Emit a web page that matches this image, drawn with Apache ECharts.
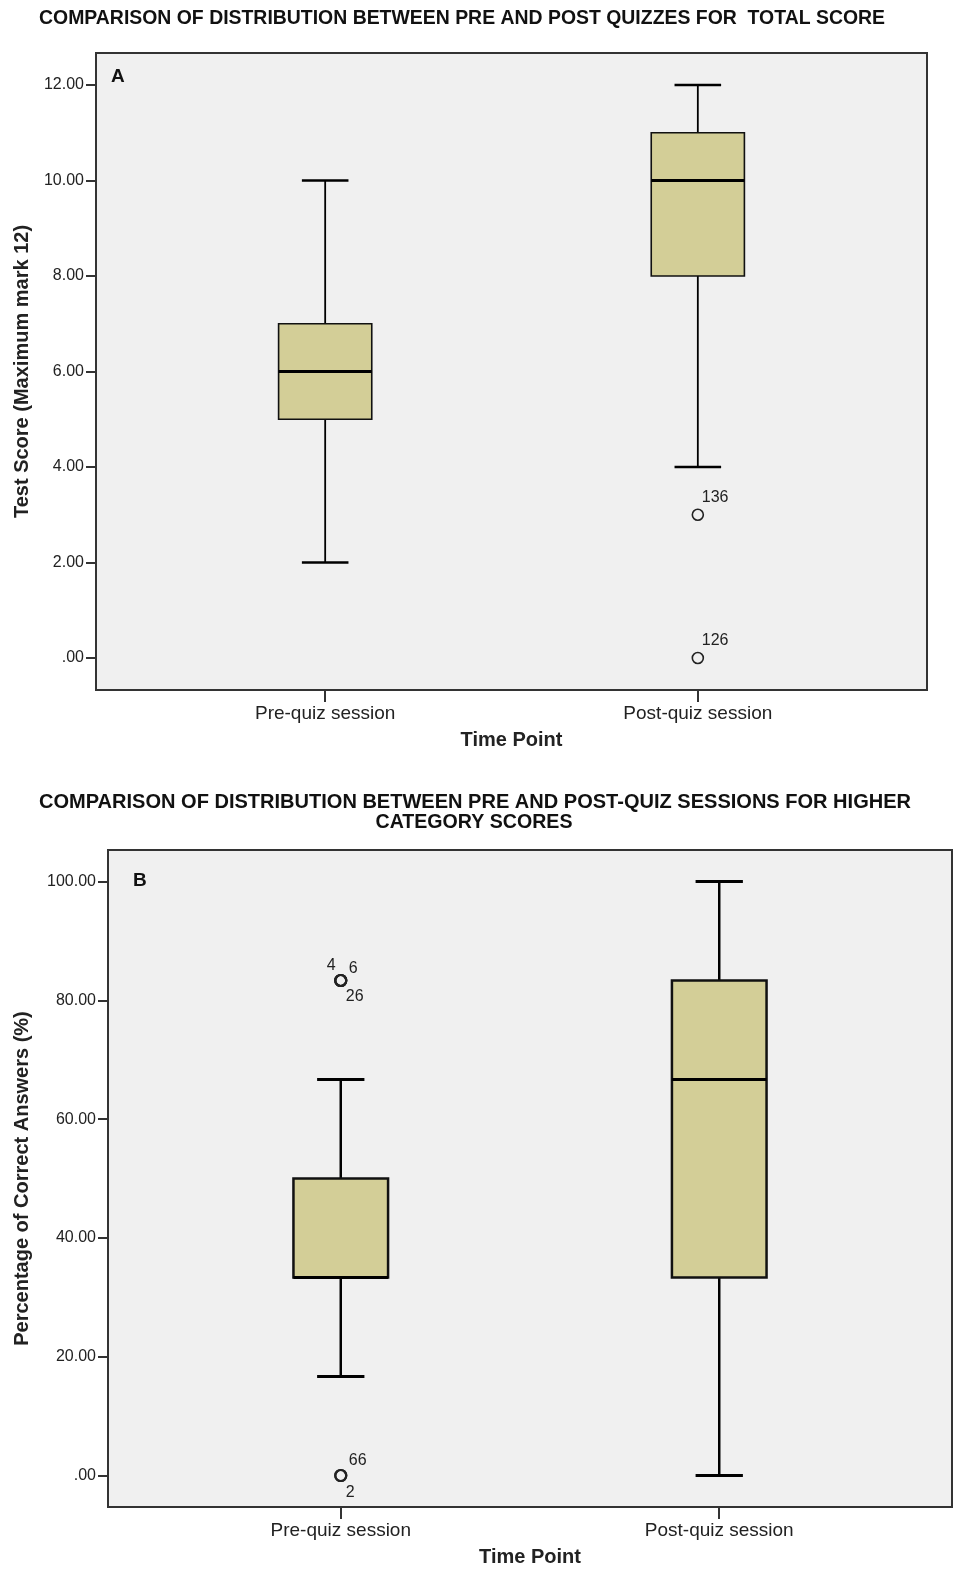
<!DOCTYPE html>
<html><head><meta charset="utf-8">
<script src="https://cdn.jsdelivr.net/npm/echarts@6/dist/echarts.min.js"></script>
<style>html,body{margin:0;padding:0;background:#fff}#chart{width:953px;height:1576px}</style>
</head><body><div id="chart"></div>
<script>
// ---------- data ----------
const categories = ['Pre-quiz session', 'Post-quiz session'];
// [min, Q1, median, Q3, max]
const boxA = [[2, 5, 6, 7, 10], [4, 8, 10, 11, 12]];
const boxB = [[16.67, 33.33, 33.33, 50, 66.67], [0, 33.33, 66.67, 83.33, 100]];
// [category index, value, case label]
const outliersA = [[1, 3, '136'], [1, 0, '126']];
const outliersB = [[0, 83.33, '4'], [0, 83.33, '6'], [0, 83.33, '26'], [0, 0, '66'], [0, 0, '2']];
const ticksA = [0, 2, 4, 6, 8, 10, 12];
const ticksB = [0, 20, 40, 60, 80, 100];
const titleA = 'COMPARISON OF DISTRIBUTION BETWEEN PRE AND POST QUIZZES FOR  TOTAL SCORE';
const titleB1 = 'COMPARISON OF DISTRIBUTION BETWEEN PRE AND POST-QUIZ SESSIONS FOR HIGHER';
const titleB2 = 'CATEGORY SCORES';
const yNameA = 'Test Score (Maximum mark 12)';
const yNameB = 'Percentage of Correct Answers (%)';
const xName = 'Time Point';

// ---------- styles ----------
const labelPos = {
  '136': {align: 'left', offset: [4, -17]},
  '126': {align: 'left', offset: [4, -17]},
  '4': {align: 'right', offset: [-5, -15]},
  '6': {align: 'left', offset: [8, -12]},
  '26': {align: 'left', offset: [5, 16]},
  '66': {align: 'left', offset: [8, -15]},
  '2': {align: 'left', offset: [5, 17]}
};
const FONT = '"Liberation Sans", Arial, sans-serif';
const canvas = document.createElement('canvas');
const ctx = canvas.getContext('2d');
function condensed(text, size, target) {
  ctx.font = 'bold ' + size + 'px ' + FONT;
  return target / ctx.measureText(text).width;
}

function makeBoxRender(lw) {
  return function (params, api) {
    const x = api.value(0);
    const pMin = api.coord([x, api.value(1)]);
    const pQ1 = api.coord([x, api.value(2)]);
    const pMed = api.coord([x, api.value(3)]);
    const pQ3 = api.coord([x, api.value(4)]);
    const pMax = api.coord([x, api.value(5)]);
    const bw = api.size([0.25, 0])[0];
    const cx = pMin[0];
    const hb = bw / 2, hc = bw / 4;
    const line = (x1, y1, x2, y2, w) => ({type: 'line', shape: {x1, y1, x2, y2}, style: {stroke: '#000', lineWidth: w}});
    return {type: 'group', children: [
      line(cx, pMax[1], cx, pQ3[1], lw.whisker),
      line(cx, pQ1[1], cx, pMin[1], lw.whisker),
      line(cx - hc, pMax[1], cx + hc, pMax[1], lw.cap),
      line(cx - hc, pMin[1], cx + hc, pMin[1], lw.cap),
      {type: 'rect', shape: {x: cx - hb, y: pQ3[1], width: bw, height: pQ1[1] - pQ3[1]},
        style: {fill: '#d3ce97', stroke: '#111', lineWidth: lw.box}},
      line(cx - hb, pMed[1], cx + hb, pMed[1], lw.median)
    ]};
  };
}

function xAxisCfg(gridIndex) {
  return {
    type: 'value', gridIndex, min: -0.615, max: 1.615,
    axisLine: {show: true, onZero: false, lineStyle: {color: '#333', width: 2}},
    axisTick: {show: true, customValues: [0, 1], length: 12, lineStyle: {color: '#333', width: 2}},
    axisLabel: {customValues: [0, 1], formatter: v => categories[Math.round(v)] || '',
      fontSize: 19, color: '#222', margin: 14, fontFamily: FONT},
    splitLine: {show: false},
    name: xName, nameLocation: 'middle', nameGap: 40,
    nameTextStyle: {fontSize: 20, fontWeight: 'bold', color: '#222', fontFamily: FONT}
  };
}
function yAxisCfg(gridIndex, min, max, ticks, name, gap) {
  return {
    type: 'value', gridIndex, min, max,
    axisLine: {show: true, onZero: false, lineStyle: {color: '#333', width: 2}},
    axisTick: {show: true, customValues: ticks, length: 10, lineStyle: {color: '#333', width: 2}},
    axisLabel: {customValues: ticks, formatter: v => v === 0 ? '.00' : v.toFixed(2),
      fontSize: 16, color: '#222', margin: 12, fontFamily: FONT},
    splitLine: {show: false},
    name, nameLocation: 'middle', nameGap: gap,
    nameTextStyle: {fontSize: 20, fontWeight: 'bold', color: '#222', fontFamily: FONT}
  };
}
function outlierSeries(list, idx, bw) {
  return {
    type: 'scatter', xAxisIndex: idx, yAxisIndex: idx, symbol: 'circle', symbolSize: 11,
    itemStyle: {color: 'rgba(0,0,0,0)', borderColor: '#222', borderWidth: bw, opacity: 1},
    data: list.map(o => ({
      value: [o[0], o[1]],
      label: {show: true, formatter: o[2], position: 'inside', verticalAlign: 'middle',
        align: labelPos[o[2]].align, offset: labelPos[o[2]].offset,
        fontSize: 16, color: '#222', fontFamily: FONT}
    }))
  };
}

const chart = echarts.init(document.getElementById('chart'), null, {renderer: 'canvas'});
const option = {
  backgroundColor: '#fff',
  animation: false,
  grid: [
    {left: 96, top: 53, width: 831, height: 637, show: true, backgroundColor: '#f0f0f0', borderColor: '#333', borderWidth: 2},
    {left: 108, top: 850, width: 844, height: 657, show: true, backgroundColor: '#f0f0f0', borderColor: '#333', borderWidth: 2}
  ],
  xAxis: [xAxisCfg(0), xAxisCfg(1)],
  yAxis: [
    yAxisCfg(0, -0.67, 12.67, ticksA, yNameA, 64),
    yAxisCfg(1, -5.3, 105.3, ticksB, yNameB, 76)
  ],
  series: [
    {type: 'custom', xAxisIndex: 0, yAxisIndex: 0, renderItem: makeBoxRender({whisker: 1.8, cap: 2.5, box: 1.6, median: 3}),
      encode: {x: 0, y: [1, 2, 3, 4, 5]}, data: boxA.map((d, i) => [i].concat(d))},
    {type: 'custom', xAxisIndex: 1, yAxisIndex: 1, renderItem: makeBoxRender({whisker: 2.5, cap: 3, box: 2.5, median: 3}),
      encode: {x: 0, y: [1, 2, 3, 4, 5]}, data: boxB.map((d, i) => [i].concat(d))},
    outlierSeries(outliersA, 0, 1.6),
    outlierSeries(outliersB, 1, 2.2)
  ],
  graphic: [
    {type: 'text', x: 462, y: 18, scaleX: condensed(titleA, 21, 846),
      style: {text: titleA, align: 'center', verticalAlign: 'middle', font: 'bold 21px ' + FONT, fill: '#111'}},
    {type: 'text', x: 475, y: 802, scaleX: condensed(titleB1, 21, 872),
      style: {text: titleB1, align: 'center', verticalAlign: 'middle', font: 'bold 21px ' + FONT, fill: '#111'}},
    {type: 'text', x: 474, y: 822, scaleX: condensed(titleB2, 21, 197),
      style: {text: titleB2, align: 'center', verticalAlign: 'middle', font: 'bold 21px ' + FONT, fill: '#111'}},
    {type: 'text', x: 111, y: 77, style: {text: 'A', align: 'left', verticalAlign: 'middle', font: 'bold 19px ' + FONT, fill: '#111'}},
    {type: 'text', x: 133, y: 881, style: {text: 'B', align: 'left', verticalAlign: 'middle', font: 'bold 19px ' + FONT, fill: '#111'}}
  ]
};
chart.setOption(option);
</script>
</body></html>
